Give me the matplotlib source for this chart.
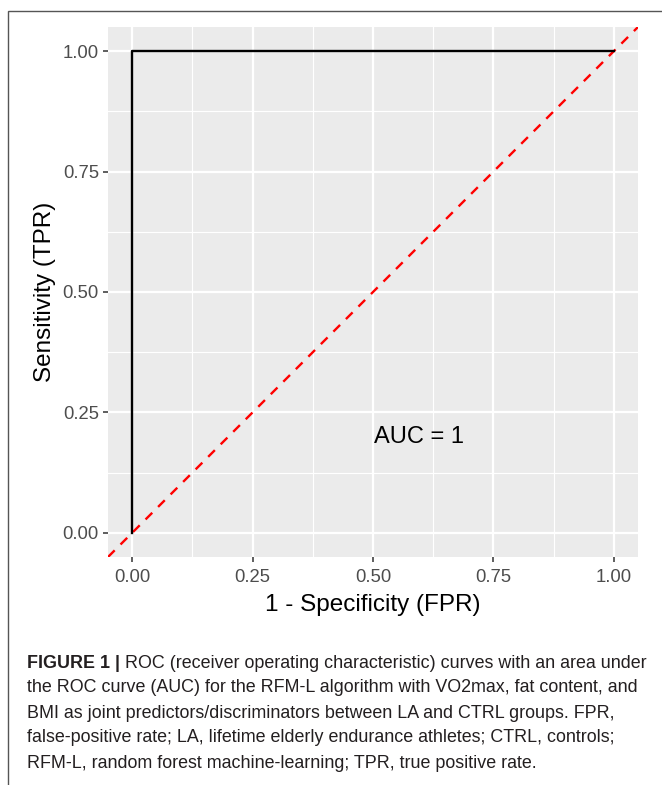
import matplotlib
matplotlib.use("Agg")
import matplotlib.pyplot as plt
from matplotlib.patches import Rectangle

# ROC curve points (FPR, TPR)
fpr = [0.0, 0.0, 1.0]
tpr = [0.0, 1.0, 1.0]
ticks = [0.0, 0.25, 0.5, 0.75, 1.0]
tick_labels = ["0.00", "0.25", "0.50", "0.75", "1.00"]
minor_ticks = [0.125, 0.375, 0.625, 0.875]
auc_text = "AUC = 1"

caption_bold = "FIGURE 1 | "
caption_lines = [
    "ROC (receiver operating characteristic) curves with an area under",
    "the ROC curve (AUC) for the RFM-L algorithm with VO2max, fat content, and",
    "BMI as joint predictors/discriminators between LA and CTRL groups. FPR,",
    "false-positive rate; LA, lifetime elderly endurance athletes; CTRL, controls;",
    "RFM-L, random forest machine-learning; TPR, true positive rate.",
]

plt.rcParams["font.family"] = ["Liberation Sans", "DejaVu Sans"]

W, H = 662, 785
fig = plt.figure(figsize=(W / 100, H / 100), dpi=100)

# outer frame (left and top edges visible)
fig.patches.append(Rectangle((8 / W, -0.1), 1.2, 1 - 10.5 / H + 0.1,
                             transform=fig.transFigure, fill=False,
                             edgecolor="#555555", linewidth=1.0))

ax = fig.add_axes([108 / W, 1 - 557 / H, 530 / W, 530 / H])
ax.set_facecolor("#EBEBEB")
for s in ax.spines.values():
    s.set_visible(False)

lo, hi = -0.05, 1.05
ax.set_xlim(lo, hi)
ax.set_ylim(lo, hi)

for m in minor_ticks:
    ax.axvline(m, color="white", linewidth=0.8, zorder=0)
    ax.axhline(m, color="white", linewidth=0.8, zorder=0)
for t in ticks:
    ax.axvline(t, color="white", linewidth=1.6, zorder=0)
    ax.axhline(t, color="white", linewidth=1.6, zorder=0)

ax.plot([lo, hi], [lo, hi], color="#FF0000", linestyle=(0, (4, 3.5)),
        linewidth=1.7, zorder=2)
ax.plot(fpr, tpr, color="black", linewidth=1.7, zorder=3)

ax.text(0.595, 0.2, auc_text, ha="center", va="center", fontsize=17,
        color="black")

ax.set_xticks(ticks)
ax.set_yticks(ticks)
ax.set_xticklabels(tick_labels)
ax.set_yticklabels(tick_labels)
ax.tick_params(length=3.5, width=1.1, color="#333333", labelcolor="#4D4D4D",
               labelsize=13.3, pad=3)
ax.tick_params(axis="x", pad=5)

ax.set_xlabel("1 - Specificity (FPR)", fontsize=17.5, color="black", labelpad=6)
ax.set_ylabel("Sensitivity (TPR)", fontsize=17.5, color="black", labelpad=5)

# caption
x0 = 27 / W
y_first = 663
line_gap = 25
cap_size = 12.85
t_bold = fig.text(x0, 1 - y_first / H, caption_bold, fontsize=cap_size,
                  fontweight="bold", color="#231F20", va="center")
fig.canvas.draw()
bb = t_bold.get_window_extent()
fig.text(bb.x1 / W, 1 - y_first / H, caption_lines[0], fontsize=cap_size,
         color="#231F20", va="center")
for i, line in enumerate(caption_lines[1:], start=1):
    fig.text(x0, 1 - (y_first + i * line_gap) / H, line, fontsize=cap_size,
             color="#231F20", va="center")

fig.savefig("out.png", dpi=100)
